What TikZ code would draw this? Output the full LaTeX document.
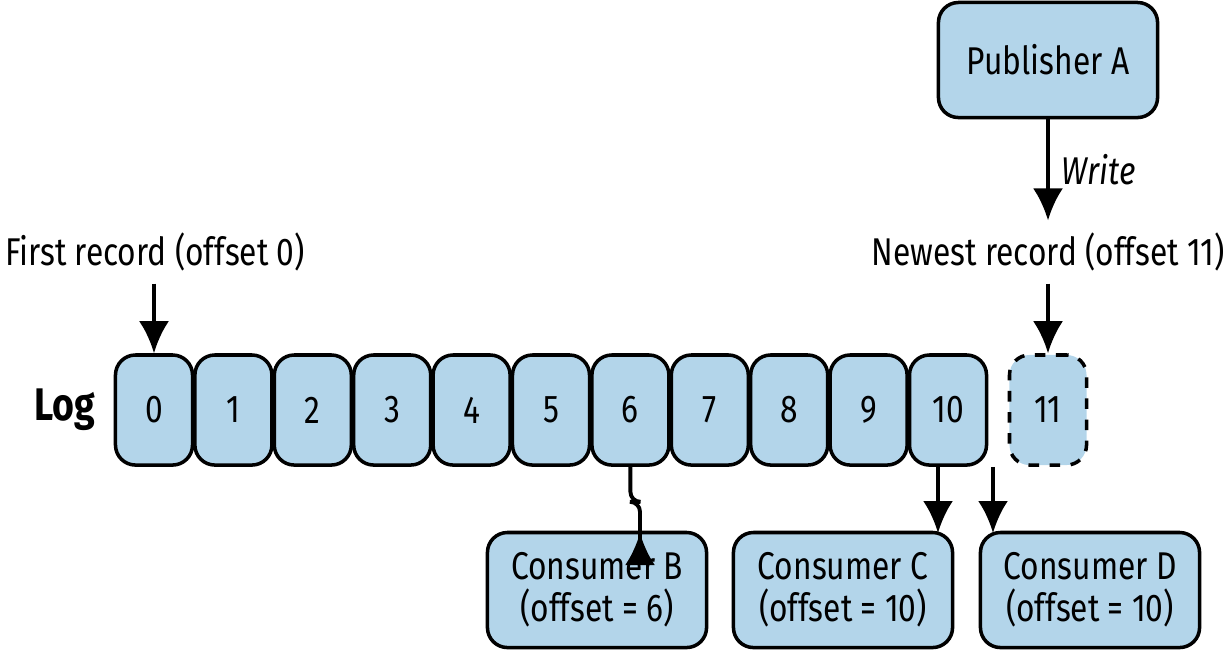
\documentclass[tikz,border=0pt]{standalone}
\usepackage{fontspec}
\setmainfont[FakeStretch=0.82]{Fira Sans}
\usetikzlibrary{arrows.meta}
\definecolor{cellblue}{HTML}{B3D5EA}
\tikzset{>={Latex[length=3.2mm,width=3mm]}}
\tikzset{
  cell/.style={draw,line width=1pt,fill=cellblue,rounded corners=2mm,minimum width=0.77cm,minimum height=1.1cm,font=\fontsize{11}{13}\selectfont},
  party/.style={draw,line width=1pt,fill=cellblue,rounded corners=2mm,minimum width=2.19cm,minimum height=1.15cm,align=center,font=\fontsize{11}{12}\selectfont},
  lbl/.style={font=\fontsize{11}{13}\selectfont},
  flow/.style={->,line width=1.1pt}
}
\begin{document}
\begin{tikzpicture}[x=0.01cm,y=-0.01cm]
            \useasboundingbox (0,0) rectangle (1228,653);
            \foreach \i in {0,...,10}
              \node[cell] (c\i) at ({154+79.4*\i},410){\i};
            \node[cell,dashed] (c11) at (1048,410){11};
            \node[font=\fontsize{13}{15}\selectfont\bfseries] (log) at (65,410){Log};
            \node[party] (pubA) at (1048,60){Publisher A};
            \node[lbl] (newest) at (1048,252){Newest record (offset 11)};
            \node[lbl] (first) at (155,252){First record (offset 0)};
            \node[party] (conB) at (597,590){Consumer B\\(offset = 6)};
            \node[party] (conC) at (843,590){Consumer C\\(offset = 10)};
            \node[party] (conD) at (1090,590){Consumer D\\(offset = 10)};
            \draw[flow] (pubA) -- node[right,lbl,font=\fontsize{11}{13}\selectfont\itshape]{Write} (newest);
            \draw[flow] (newest) -- (c11);
            \draw[flow] (first.south -| c0) -- (c0);
            \draw[flow,rounded corners=1mm] (c6.south) -- ++(0,35) -| (conB.north east -| 640,0) -- (640,533);
            \draw[flow] (c10.south -| 938,0) -- (938,533);
            \draw[flow] (c10.south -| 993,0) -- (993,533);
        \end{tikzpicture}
\end{document}
